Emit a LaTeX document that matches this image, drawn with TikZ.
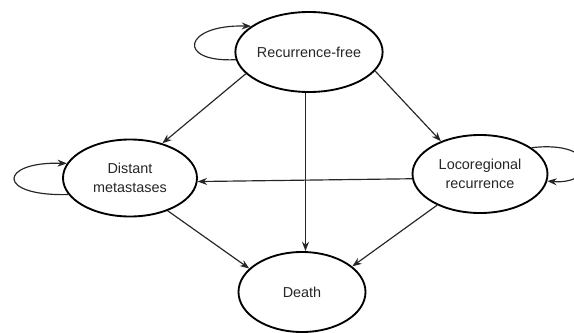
\documentclass[tikz,border=0pt]{standalone}
\usepackage{fontspec}
\setmainfont{Liberation Sans}
\usetikzlibrary{shapes.geometric,arrows.meta}
\tikzset{
    state-node/.style = {draw=black, ellipse, line width=1.6pt, inner sep=0pt, align=center, text=black!85, font=\fontsize{12.3}{16}\selectfont},
    trans-arrow/.style = {-{Stealth[length=8pt,width=6pt]}, line width=1pt, draw=black!85},
}

\begin{document}
\begin{tikzpicture}[x=0.03cm, y=-0.03cm]
\useasboundingbox (0,0) rectangle (574,333);
\node[state-node, minimum width=3.96cm, minimum height=2.4cm] (recfree) at (309,52) {Recurrence-free};
\node[state-node, minimum width=4.02cm, minimum height=2.31cm] (distmet) at (130,178) {Distant\\metastases};
\node[state-node, minimum width=4.05cm, minimum height=2.34cm] (locorec) at (480,174) {Locoregional\\recurrence};
\node[state-node, minimum width=3.81cm, minimum height=2.4cm] (death) at (302,292) {Death};

% self loops
\draw[trans-arrow] (recfree.186) .. controls +(-60,3) and +(-68,-2) .. (recfree.156);
\draw[trans-arrow] (distmet.195) .. controls +(-73,2) and +(-68,-2) .. (distmet.167);
\draw[trans-arrow] (locorec.27) .. controls +(68,-8) and +(50,4) .. (locorec.354);

% transitions
\draw[trans-arrow] (recfree.south -| 305.5,0) -- (death.north -| 305.5,0);
\draw[trans-arrow] (recfree.199) -- (distmet.47);
\draw[trans-arrow] (recfree.344) -- (locorec.140);
\draw[trans-arrow] (locorec.184) -- (distmet.357);
\draw[trans-arrow] (distmet.319) -- (death.156);
\draw[trans-arrow] (locorec.216) -- (death.27);
\end{tikzpicture}
\end{document}
